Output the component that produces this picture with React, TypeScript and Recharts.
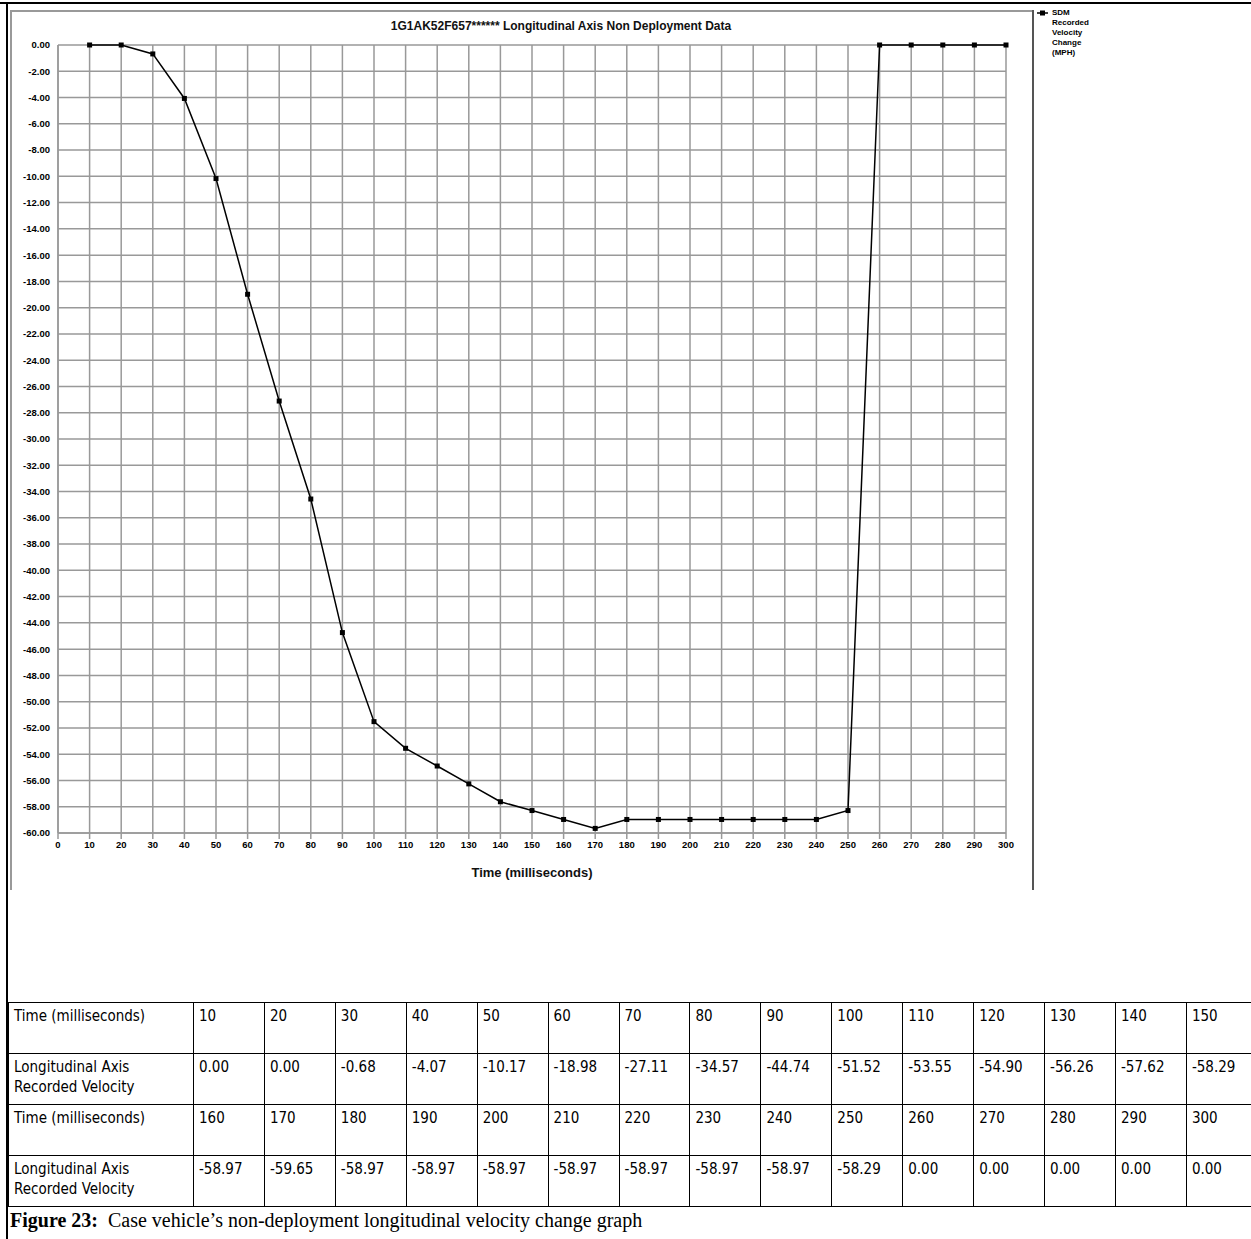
import React from 'react'
import {
  LineChart,
  Line,
  XAxis,
  YAxis,
  CartesianGrid,
  Legend
} from 'recharts'

// values from the data table under the graph
const times = [
  10, 20, 30, 40, 50, 60, 70, 80, 90, 100, 110, 120, 130, 140, 150,
  160, 170, 180, 190, 200, 210, 220, 230, 240, 250, 260, 270, 280, 290, 300
]
const velocity = [
  0.0, 0.0, -0.68, -4.07, -10.17, -18.98, -27.11, -34.57, -44.74, -51.52,
  -53.55, -54.9, -56.26, -57.62, -58.29,
  -58.97, -59.65, -58.97, -58.97, -58.97, -58.97, -58.97, -58.97, -58.97,
  -58.29, 0.0, 0.0, 0.0, 0.0, 0.0
]
const xTicks = [
  0, 10, 20, 30, 40, 50, 60, 70, 80, 90, 100, 110, 120, 130, 140, 150,
  160, 170, 180, 190, 200, 210, 220, 230, 240, 250, 260, 270, 280, 290, 300
]
const yTicks = [
  0, -2, -4, -6, -8, -10, -12, -14, -16, -18, -20, -22, -24, -26, -28, -30,
  -32, -34, -36, -38, -40, -42, -44, -46, -48, -50, -52, -54, -56, -58, -60
]
const legendLines = ['SDM', 'Recorded', 'Velocity', 'Change', '(MPH)']
const chartTitle = '1G1AK52F657****** Longitudinal Axis Non Deployment Data'
const rowTime = 'Time (milliseconds)'
const rowVel = ['Longitudinal Axis', 'Recorded Velocity']

const data = times.map((t, i) => ({ time: t, v: velocity[i] }))

const tickFont = {
  fontFamily: 'Liberation Sans, Arial, sans-serif',
  fontSize: 9.5,
  fontWeight: 700,
  fill: '#000'
}

const SquareDot = (props: any) => {
  const { cx, cy } = props
  if (cx == null || cy == null) return null
  return <rect x={cx - 2.5} y={cy - 2.5} width={5} height={5} fill="#000" />
}

const LegendBox = () => (
  <div style={{ fontFamily: 'Liberation Sans, Arial, sans-serif', fontSize: 8, fontWeight: 700, lineHeight: '10px' }}>
    <div style={{ display: 'flex' }}>
      <svg width={16} height={10}>
        <line x1={1} y1={5} x2={12} y2={5} stroke="#000" strokeWidth={1.5} />
        <rect x={4} y={2.5} width={5} height={5} fill="#000" />
      </svg>
      <div>
        {legendLines.map((l) => (
          <div key={l}>{l}</div>
        ))}
      </div>
    </div>
  </div>
)

function Table({ start }: { start: number }) {
  const cell: React.CSSProperties = {
    border: '1.5px solid #000',
    verticalAlign: 'top',
    padding: '3px 5px',
    height: 51,
    boxSizing: 'border-box'
  }
  const ts = times.slice(start, start + 15)
  const vs = velocity.slice(start, start + 15)
  return (
    <>
      <tr>
        <td style={{ ...cell, width: 185 }}>{rowTime}</td>
        {ts.map((t) => (
          <td key={t} style={cell}>{t}</td>
        ))}
      </tr>
      <tr>
        <td style={cell}>
          {rowVel[0]}
          <br />
          {rowVel[1]}
        </td>
        {vs.map((v, i) => (
          <td key={i} style={cell}>{v.toFixed(2)}</td>
        ))}
      </tr>
    </>
  )
}

export default function App() {
  return (
    <div style={{ position: 'absolute', left: 0, top: 0, width: 1251, height: 1239, background: '#fff', overflow: 'hidden' }}>
      {/* frame lines */}
      <div style={{ position: 'absolute', left: 0, top: 2, width: 1251, height: 2, background: '#000' }} />
      <div style={{ position: 'absolute', left: 6, top: 2, width: 2, height: 1237, background: '#000' }} />
      <div style={{ position: 'absolute', left: 10, top: 10, width: 1022, height: 2, background: '#999' }} />
      <div style={{ position: 'absolute', left: 10, top: 10, width: 2, height: 880, background: '#999' }} />
      <div style={{ position: 'absolute', left: 1032, top: 10, width: 2, height: 880, background: '#555' }} />

      <div style={{ position: 'absolute', left: 0, top: 0 }}>
        <LineChart
          width={1100}
          height={895}
          data={data}
          margin={{ top: 45, right: 94, bottom: 22, left: 0 }}
        >
          <CartesianGrid stroke="#999" strokeWidth={1.5} />
          <XAxis
            dataKey="time"
            type="number"
            domain={[0, 300]}
            ticks={xTicks}
            interval={0}
            height={40}
            tick={tickFont}
            tickLine={{ stroke: '#999', strokeWidth: 1.5 }}
            tickSize={6}
            axisLine={{ stroke: '#999', strokeWidth: 1.5 }}
            label={{
              value: 'Time (milliseconds)',
              position: 'insideBottom',
              offset: -4,
              style: { fontFamily: 'Liberation Sans, Arial, sans-serif', fontSize: 13, fontWeight: 700, fill: '#111' }
            }}
          />
          <YAxis
            type="number"
            domain={[-60, 0]}
            ticks={yTicks}
            interval={0}
            width={58}
            tick={tickFont}
            tickLine={false}
            tickSize={6}
            axisLine={{ stroke: '#999', strokeWidth: 1.5 }}
            tickFormatter={(v: number) => v.toFixed(2)}
          />
          <Legend
            layout="vertical"
            align="center"
            verticalAlign="middle"
            wrapperStyle={{ left: 1036, top: 8, width: 64 }}
            content={() => <LegendBox />}
          />
          <Line
            type="linear"
            dataKey="v"
            name="SDM Recorded Velocity Change (MPH)"
            stroke="#000"
            strokeWidth={1.5}
            dot={<SquareDot />}
            activeDot={false}
            isAnimationActive={false}
          />
        </LineChart>
      </div>

      <div
        style={{
          position: 'absolute',
          left: 300,
          top: 19,
          width: 522,
          textAlign: 'center',
          fontFamily: 'Liberation Sans, Arial, sans-serif',
          fontSize: 12,
          fontWeight: 700,
          color: '#111'
        }}
      >
        {chartTitle}
      </div>

      <table
        style={{
          position: 'absolute',
          left: 8,
          top: 1002,
          width: 1250,
          borderCollapse: 'collapse',
          fontFamily: "'Liberation Sans Narrow', 'DejaVu Sans Condensed', 'Arial Narrow', sans-serif",
          fontStretch: 'condensed',
          fontSize: 15,
          lineHeight: '20px'
        }}
      >
        <tbody>
          <Table start={0} />
          <Table start={15} />
        </tbody>
      </table>

      <div
        style={{
          position: 'absolute',
          left: 10,
          top: 1209,
          fontFamily: 'Liberation Serif, Times New Roman, serif',
          fontSize: 20
        }}
      >
        <b>Figure 23:</b>&nbsp; Case vehicle’s non-deployment longitudinal velocity change graph
      </div>
    </div>
  )
}
